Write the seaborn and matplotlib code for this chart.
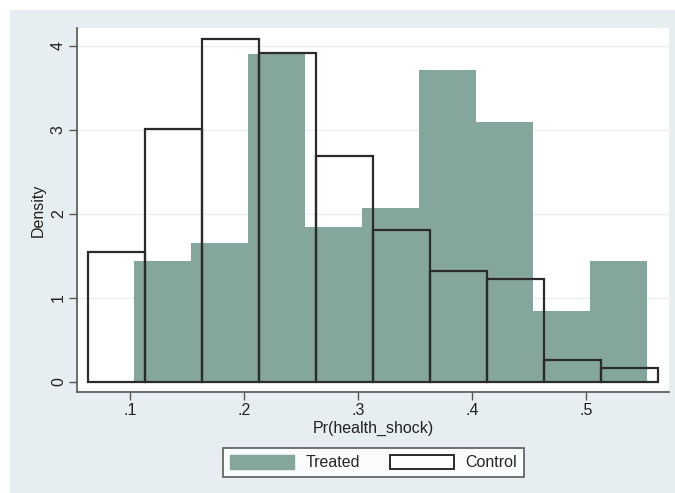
import matplotlib
matplotlib.use("Agg")
import matplotlib.pyplot as plt
import matplotlib.patches as mpatches
import seaborn as sns
import numpy as np

# ---- data ----
treated_edges = [0.1035, 0.1535, 0.2035, 0.2535, 0.3035, 0.3535, 0.4035, 0.4535, 0.5035, 0.5535]
treated_density = [1.44, 1.65, 3.91, 1.85, 2.07, 3.71, 3.10, 0.84, 1.44]
control_edges = [0.0627, 0.1127, 0.1627, 0.2127, 0.2627, 0.3127, 0.3627, 0.4127, 0.4627, 0.5127, 0.5627]
control_density = [1.55, 3.01, 4.08, 3.92, 2.69, 1.81, 1.32, 1.23, 0.26, 0.17]
x_ticks = [0.1, 0.2, 0.3, 0.4, 0.5]
x_tick_labels = [".1", ".2", ".3", ".4", ".5"]
y_ticks = [0, 1, 2, 3, 4]
y_tick_labels = ["0", "1", "2", "3", "4"]
legend_labels = ["Treated", "Control"]

treated_mid = [(a + b) / 2 for a, b in zip(treated_edges[:-1], treated_edges[1:])]
control_mid = [(a + b) / 2 for a, b in zip(control_edges[:-1], control_edges[1:])]

TEAL = "#84a69d"
BG = "#e7eef1"
EDGE = "#2b2b2b"
FS = 11.5

sns.set_theme(style="white")
plt.rcParams["font.family"] = ["Liberation Sans", "DejaVu Sans"]

fig = plt.figure(figsize=(6.75, 4.93), dpi=100)
fig.patch.set_facecolor("white")
fig.add_artist(mpatches.Rectangle((10 / 675, 0), 1.0, 483 / 493,
                                  transform=fig.transFigure, facecolor=BG,
                                  edgecolor="none", zorder=0))

ax = fig.add_axes([77 / 675, 101 / 493, 592 / 675, 364 / 493])
ax.set_facecolor("white")

for y in [1, 2, 3, 4]:
    ax.axhline(y, color="#e9eff2", lw=1.0, zorder=0.5)

sns.histplot(x=treated_mid, weights=treated_density, bins=treated_edges,
             stat="count", color=TEAL, alpha=1.0, edgecolor=TEAL, linewidth=0,
             ax=ax, zorder=2)
sns.histplot(x=control_mid, weights=control_density, bins=control_edges,
             stat="count", fill=False, element="bars", color=EDGE,
             linewidth=1.6, ax=ax, zorder=3)
for p in ax.patches[len(treated_density):]:
    p.set_edgecolor(EDGE)
    p.set_linewidth(1.6)

ax.set_xlim(0.0531, 0.5724)
ax.set_ylim(-0.119, 4.214)
ax.set_xticks(x_ticks)
ax.set_xticklabels(x_tick_labels)
ax.set_yticks(y_ticks)
ax.set_yticklabels(y_tick_labels, rotation=90, va="center")
ax.tick_params(axis="both", direction="out", length=6, width=1, color="#555555",
               labelsize=FS, labelcolor="#222222", pad=2, left=True, bottom=True)
for s in ["top", "right"]:
    ax.spines[s].set_visible(False)
for s in ["left", "bottom"]:
    ax.spines[s].set_color("#555555")
    ax.spines[s].set_linewidth(1.2)

ax.set_xlabel("Pr(health_shock)", fontsize=FS, color="#222222", labelpad=2)
ax.set_ylabel("Density", fontsize=FS, color="#222222", labelpad=4)

handles = [mpatches.Patch(facecolor=TEAL, edgecolor=TEAL),
           mpatches.Patch(facecolor="white", edgecolor=EDGE, linewidth=1.4)]
leg = fig.legend(handles, legend_labels, loc="center",
                 bbox_to_anchor=(373.5 / 675, 30.5 / 493), ncol=2,
                 frameon=True, fancybox=False, fontsize=FS,
                 handlelength=4.0, handleheight=1.0, columnspacing=1.9,
                 handletextpad=0.7, borderpad=0.45)
leg.get_frame().set_edgecolor("#333333")
leg.get_frame().set_linewidth(1.2)
leg.get_frame().set_facecolor("white")

fig.savefig("out.png", dpi=100, facecolor=fig.get_facecolor())
